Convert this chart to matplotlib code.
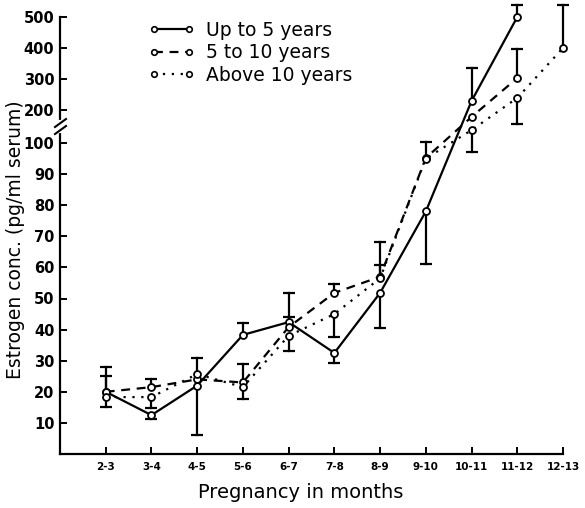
import numpy as np
import matplotlib
matplotlib.use("Agg")
import matplotlib.pyplot as plt
from matplotlib.lines import Line2D

# ---------------- data ----------------
categories = ["2-3", "3-4", "4-5", "5-6", "6-7", "7-8", "8-9", "9-10", "10-11", "11-12", "12-13"]

labels = ["Up to 5 years", "5 to 10 years", "Above 10 years"]

up5_vals = [20, 12.5, 22, 38.3, 42.4, 32.5, 51.8, 78, 229, 500]
up5_lo   = [np.nan, 11.3, 6, np.nan, np.nan, 29.3, 40.5, 61, np.nan, np.nan]
up5_hi   = [25, np.nan, np.nan, 42, 51.8, np.nan, np.nan, np.nan, 335, 539]

mid_vals = [20, 21.5, 24, 23, 40.8, 51.8, 57, 95.2, 179, 303]
mid_lo   = [np.nan, np.nan, np.nan, np.nan, np.nan, np.nan, np.nan, np.nan, np.nan, np.nan]
mid_hi   = [np.nan, 24, np.nan, 28.9, 44, 54.7, 68.2, 102.3, np.nan, 397]

old_vals = [18.3, 18.3, 25.7, 21.5, 38, 45, 56.5, 95, 139, 239, 400]
old_lo   = [15, 14.8, np.nan, 17.7, 33.1, 37.6, np.nan, np.nan, 97, 158, np.nan]
old_hi   = [28, np.nan, 31, np.nan, np.nan, np.nan, 60.8, np.nan, np.nan, np.nan, 539]

yticks = [10, 20, 30, 40, 50, 60, 70, 80, 90, 100, 200, 300, 400, 500]

# ---------------- broken (piecewise linear) y scale ----------------
_bp_v = np.array([-1000.0, 0.0, 100.0, 200.0, 2000.0])
_bp_t = np.array([-3110.0, 0.0, 311.0, 344.0, 344.0 + 1800 * 0.31])

def fwd(v):
    return np.interp(v, _bp_v, _bp_t)

def inv(t):
    return np.interp(t, _bp_t, _bp_v)

fig = plt.figure(figsize=(5.85, 5.08), dpi=100)
W, H = 585, 508
ax = fig.add_axes([60 / W, 1 - 454 / H, (563 - 60) / W, (454 - 17) / H])
ax.set_yscale('function', functions=(fwd, inv))
ax.set_ylim(0, 500)
ax.set_xlim(-1, 10)

styles = [
    dict(linestyle='-', lw=1.6),
    dict(linestyle=(0, (4, 3)), lw=1.6),
    dict(linestyle=(0, (1, 3)), lw=1.6),
]
series = [
    (up5_vals, up5_lo, up5_hi),
    (mid_vals, mid_lo, mid_hi),
    (old_vals, old_lo, old_hi),
]

for (vals, lo, hi), st in zip(series, styles):
    x = np.arange(len(vals))
    vals = np.array(vals, float)
    lo = np.array(lo, float)
    hi = np.array(hi, float)
    for xi, v, l, h in zip(x, vals, lo, hi):
        if not np.isnan(h):
            ax.plot([xi, xi], [v, h], color='black', lw=1.6, clip_on=False, zorder=2)
            ax.plot([xi], [h], marker='_', ms=9, mew=1.6, color='black', clip_on=False, zorder=2)
        if not np.isnan(l):
            ax.plot([xi, xi], [v, l], color='black', lw=1.6, clip_on=False, zorder=2)
            ax.plot([xi], [l], marker='_', ms=9, mew=1.6, color='black', clip_on=False, zorder=2)
    ax.plot(x, vals, color='black', marker='o', ms=5, mfc='white', mec='black', mew=1.3,
            clip_on=False, zorder=3, **st)

for s in ['top', 'right']:
    ax.spines[s].set_visible(False)
for s in ['left', 'bottom']:
    ax.spines[s].set_linewidth(1.6)

ax.set_xticks(range(len(categories)))
ax.set_xticklabels(categories, fontsize=7.5, fontweight='bold')
ax.set_yticks(yticks)
ax.set_yticklabels([str(t) for t in yticks], fontsize=10.5, fontweight='bold')
ax.yaxis.set_minor_locator(matplotlib.ticker.NullLocator())
ax.tick_params(axis='both', direction='in', length=5, width=1.4)
ax.tick_params(axis='y', pad=4)
ax.tick_params(axis='x', pad=6)

ax.set_xlabel("Pregnancy in months", fontsize=14)
ax.xaxis.set_label_coords((301 - 60) / 503.0, -(493 - 454) / 437.0)
ax.xaxis.label.set_verticalalignment('center')
ax.set_ylabel("Estrogen conc. (pg/ml serum)", fontsize=13.5)
ax.yaxis.set_label_coords((16 - 60) / 503.0, (454 - 240) / 437.0)
ax.yaxis.label.set_verticalalignment('center')

# axis break marks
def fr(py):
    return (454 - py) / 437.0
def fx(px):
    return (px - 60) / 503.0
ax.plot([fx(60), fx(60)], [fr(122), fr(131)], color='white', lw=3, transform=ax.transAxes, clip_on=False, zorder=5)
ax.plot([fx(55), fx(66)], [fr(127), fr(119)], color='black', lw=1.5, transform=ax.transAxes, clip_on=False, zorder=6)
ax.plot([fx(55), fx(66)], [fr(134), fr(126)], color='black', lw=1.5, transform=ax.transAxes, clip_on=False, zorder=6)

# legend
handles = []
for lab, st in zip(labels, styles):
    handles.append(Line2D([], [], color='black', marker='o', ms=4, mfc='white', mec='black', mew=1.2,
                          label=lab, **st))
leg = fig.legend(handles=handles, loc='upper left', bbox_to_anchor=(148 / W, 1 - 21 / H),
                 frameon=False, numpoints=2, fontsize=13.5, handlelength=2.5, handletextpad=0.6,
                 labelspacing=0.18, borderpad=0, borderaxespad=0)

fig.savefig("out.png", dpi=100)
